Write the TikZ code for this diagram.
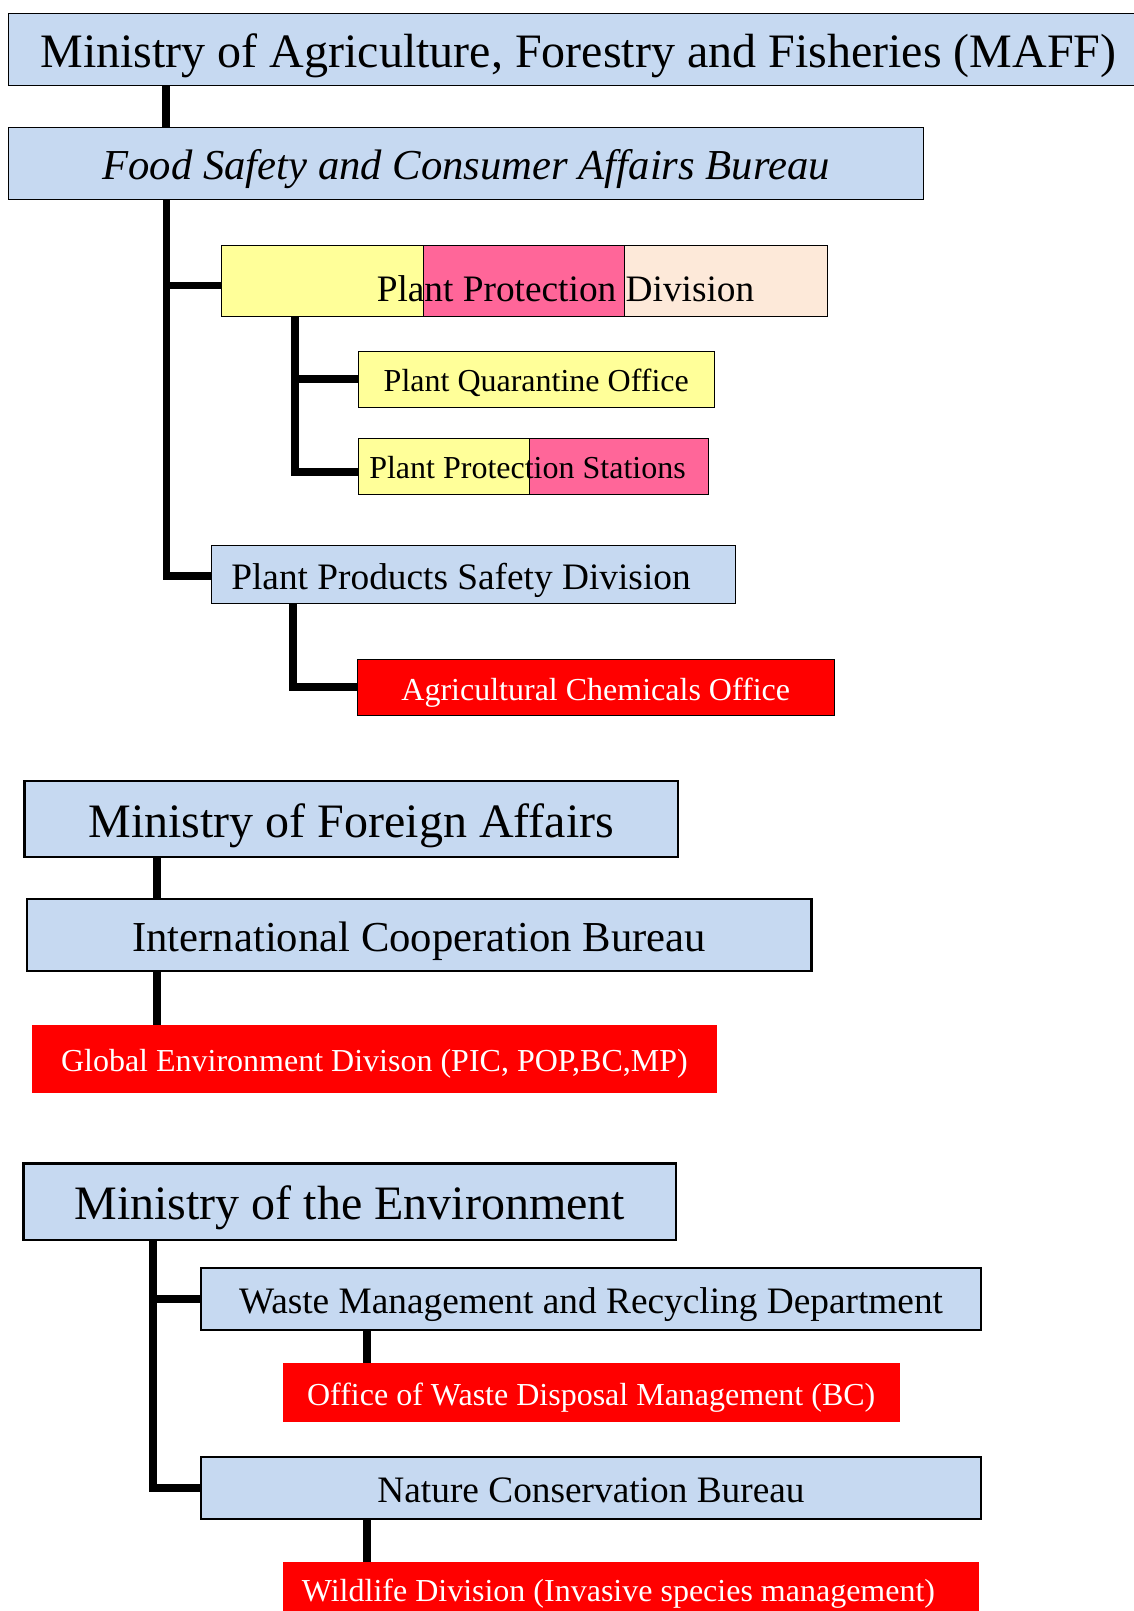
\documentclass[tikz,border=0pt]{standalone}
\usepackage{fontspec}
\setmainfont{Liberation Serif}
\usetikzlibrary{calc}
\definecolor{boxblue}{HTML}{C6D9F1}
\definecolor{pyellow}{HTML}{FFFF99}
\definecolor{ppink}{HTML}{FF6699}
\definecolor{ppeach}{HTML}{FDE9D9}
\newcommand\myfs[1]{\fontsize{#1}{#1}\selectfont}
\begin{document}
\begin{tikzpicture}[x=0.75pt,y=-0.75pt,
  basebox/.style={rectangle, inner sep=0pt, outer sep=0pt},
  sz/.style 2 args={minimum width=#1*0.75pt, minimum height=#2*0.75pt},
  bluebox/.style={basebox, fill=boxblue, draw=black, line width=0.75pt},
  bluethick/.style={basebox, fill=boxblue, draw=black, line width=2.2pt},
  bluemid/.style={basebox, fill=boxblue, draw=black, line width=1.6pt},
  redbox/.style={basebox, fill=red, text=white},
  conn/.style={draw=black, line width=5.8pt, line cap=butt, line join=miter},
  f36/.style={font=\myfs{36}, text height=27.3pt, text depth=0pt},
  f32/.style={font=\myfs{32}, text height=24.5pt, text depth=0pt},
  f28/.style={font=\myfs{28}, text height=21.8pt, text depth=0pt},
  f24/.style={font=\myfs{24}, text height=19.2pt, text depth=0pt},
]
\useasboundingbox (0,0) rectangle (1133,1611);

% ---------- MAFF ----------
\node[bluebox, sz={1139.3}{72}, f36] (maff) at (578.4,49) {Ministry of Agriculture, Forestry and Fisheries (MAFF)};
\node[bluebox, sz={914.8}{72}, f32, font=\myfs{32}\itshape] (food) at (466.1,163) {Food Safety and Consumer Affairs Bureau};

\node[basebox, draw=black, line width=0.75pt, sz={606}{71},
  path picture={
    \coordinate (pa) at (path picture bounding box.north west);
    \coordinate (pb) at (path picture bounding box.south east);
    \coordinate (pc) at (path picture bounding box.south west);
    \coordinate (pd) at (path picture bounding box.north east);
    \fill[pyellow] (pa) rectangle ($(pc)!1/3!(pb)$);
    \fill[ppink] ($(pa)!1/3!(pd)$) rectangle ($(pc)!2/3!(pb)$);
    \fill[ppeach] ($(pa)!2/3!(pd)$) rectangle (pb);
    \draw[line width=0.75pt] ($(pa)!1/3!(pd)$) -- ($(pc)!1/3!(pb)$);
    \draw[line width=0.75pt] ($(pa)!2/3!(pd)$) -- ($(pc)!2/3!(pb)$);
  }] (ppd) at (524,281) {};
\node[anchor=base, font=\myfs{28}] (ppdt) at (565.5,301.5) {Plant Protection Division};

\node[basebox, fill=pyellow, draw=black, line width=0.75pt, sz={355.5}{56}, f24] (pqo) at (536.25,379) {Plant Quarantine Office};

\node[basebox, draw=black, line width=0.75pt, sz={349.5}{55.4},
  path picture={
    \coordinate (qa) at (path picture bounding box.north west);
    \coordinate (qb) at (path picture bounding box.south east);
    \coordinate (qc) at (path picture bounding box.south west);
    \coordinate (qd) at (path picture bounding box.north east);
    \fill[pyellow] (qa) rectangle ($(qc)!0.488!(qb)$);
    \fill[ppink] ($(qa)!0.488!(qd)$) rectangle (qb);
    \draw[line width=0.75pt] ($(qa)!0.488!(qd)$) -- ($(qc)!0.488!(qb)$);
  }] (pps) at (533.25,466.3) {};
\node[anchor=base, font=\myfs{24}] (ppst) at (527.5,478.8) {Plant Protection Stations};

\node[bluebox, sz={523.9}{57.6}] (ppsd) at (473.55,574.2) {};
\node[anchor=base, font=\myfs{28}] (ppsdt) at (461,589.5) {Plant Products Safety Division};

\node[redbox, draw=black, line width=0.75pt, sz={476.5}{55.5}, f24] (aco) at (595.75,687.25) {Agricultural Chemicals Office};

% ---------- MOFA ----------
\node[bluethick, sz={653.4}{76}, f36] (mofa) at (351.3,819) {Ministry of Foreign Affairs};
\node[bluemid, sz={784.8}{72}, f32] (icb) at (419.1,935) {International Cooperation Bureau};
\node[redbox, sz={685.2}{67.5}, f24] (ged) at (374.4,1058.75) {Global Environment Divison (PIC, POP,BC,MP)};

% ---------- MOE ----------
\node[bluethick, sz={652.4}{76.7}, f36] (moe) at (349.8,1201.6) {Ministry of the Environment};
\node[bluethick, sz={780}{62}, f28] (wmrd) at (591,1299) {Waste Management and Recycling Department};
\node[redbox, sz={617.5}{58.7}, f24] (owdm) at (591.25,1392.35) {Office of Waste Disposal Management (BC)};
\node[bluethick, sz={780}{62}, f28] (ncb) at (591,1488) {Nature Conservation Bureau};
\node[redbox, sz={696.5}{50}] (wd) at (630.75,1587) {};
\node[anchor=base, font=\myfs{24}, text=white] (wdt) at (618.5,1601) {Wildlife Division (Invasive species management)};

% ---------- connectors ----------
\coordinate (t1) at (166,0);
\coordinate (t2) at (166.5,0);
\coordinate (t3) at (295,0);
\coordinate (t4) at (292.7,0);
\coordinate (t5) at (157,0);
\coordinate (t6) at (153,0);
\coordinate (t7) at (366.7,0);
\coordinate (ppdin) at ([yshift=-3.3pt]ppd.west);
\coordinate (ppsin) at ([yshift=-4pt]pps.west);
\coordinate (ppsdin) at ([yshift=-1.4pt]ppsd.west);

\draw[conn] (maff.south -| t1) -- (food.north -| t1);
\draw[conn] (food.south -| t2) |- (ppsdin);
\draw[conn] (t2 |- ppdin) -- (ppdin);
\draw[conn] (ppd.south -| t3) |- (ppsin);
\draw[conn] (t3 |- pqo.west) -- (pqo.west);
\draw[conn] (ppsd.south -| t4) |- (aco.west);

\draw[conn] (mofa.south -| t5) -- (icb.north -| t5);
\draw[conn] (icb.south -| t5) -- (ged.north -| t5);

\draw[conn] (moe.south -| t6) |- (ncb.west);
\draw[conn] (t6 |- wmrd.west) -- (wmrd.west);
\draw[conn] (wmrd.south -| t7) -- (owdm.north -| t7);
\draw[conn] (ncb.south -| t7) -- (wd.north -| t7);
\end{tikzpicture}
\end{document}
